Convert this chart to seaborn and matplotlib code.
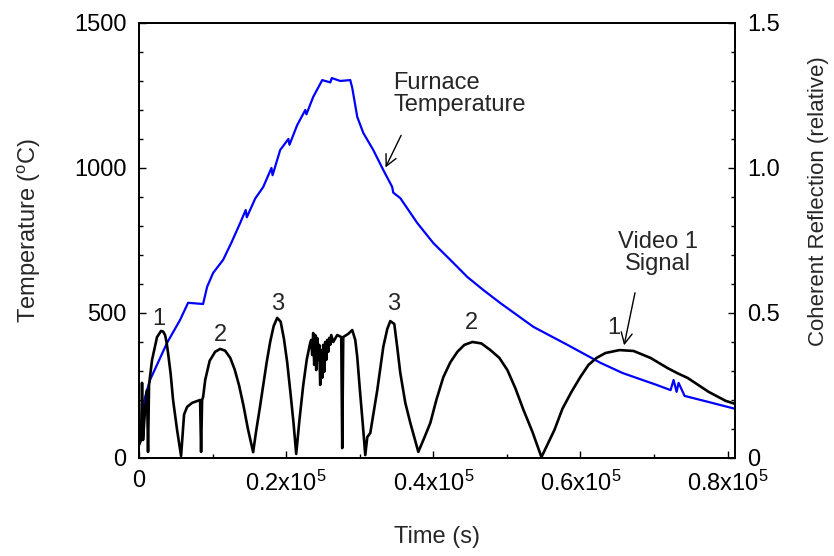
import matplotlib
matplotlib.use('Agg')
import matplotlib.pyplot as plt
import seaborn as sns
from matplotlib.ticker import MultipleLocator, FixedLocator

# furnace temperature (left axis, deg C)
time_furnace = [0, 408, 816, 1497, 3810, 5578, 6667, 8707, 9252, 10068, 11429,
                12600, 13741, 14500, 14650, 15800, 16871, 18000, 18150, 19184,
                20300, 20450, 21497, 22600, 22750, 23673, 24898, 26000, 26200,
                27347, 28707, 28980, 29660, 30476, 31837, 33197, 34400, 34550,
                35510, 37823, 40000, 42313, 44626, 46803, 49116, 53605, 58231,
                62721, 65714, 70340, 72245, 72653, 73061, 73333, 74150, 77415,
                81088]
temp_furnace = [45, 141, 210, 269, 397, 476, 535, 531, 590, 638, 683,
                745, 810, 855, 830, 895, 934, 1000, 975, 1062,
                1100, 1080, 1148, 1200, 1185, 1245, 1303, 1295, 1310,
                1300, 1303, 1276, 1176, 1121, 1062, 993, 935, 915,
                896, 810, 741, 683, 624, 579, 534, 452, 390,
                328, 293, 252, 234, 269, 228, 259, 214, 193,
                169]

# video 1 coherent reflection (right axis, relative)
time_signal = [0, 272, 408, 544, 816, 1088, 1224, 1361, 1769, 2449, 2993, 3270,
               3537, 3740, 3946, 4300, 4626, 5170, 5714, 6122, 6531, 7211,
               8299, 8435, 8571, 8707, 9000, 9600, 10340, 11020, 11700, 12400,
               13000, 13600, 14200, 14800, 15510, 15900, 16400, 16871, 17350,
               17823, 18300, 18776, 19250, 19700, 20136, 20600, 21000, 21361,
               21800, 22313, 22800, 23265, 23401, 23537, 23673, 23809, 23945,
               24082, 24218, 24354, 24490, 24626, 24762, 24898, 25034, 25170,
               25306, 25442, 25578, 25714, 25850, 25986, 26122, 26395, 26939,
               27483, 27619, 27755, 28435, 28980, 29388, 29660, 30000, 30400,
               30748, 31020, 31429, 32381, 33197, 33741, 34150, 34694, 35102,
               35510, 36190, 36871, 37959, 38776, 39592, 40408, 41361, 42313,
               43265, 44218, 45306, 46531, 47755, 48980, 50068, 51156, 52245,
               53469, 54694, 56463, 57551, 58776, 60000, 61088, 62177, 63401,
               65306, 67211, 69524, 71837, 73200, 74558, 77415, 79728, 81088]
reflection = [0.045, 0.062, 0.259, 0.062, 0.166, 0.234, 0.021, 0.252, 0.338, 0.417, 0.438, 0.436,
              0.424, 0.400, 0.362, 0.290, 0.200, 0.097, 0.007, 0.150, 0.176, 0.190,
              0.200, 0.021, 0.200, 0.210, 0.270, 0.335, 0.366, 0.376, 0.370, 0.345,
              0.305, 0.250, 0.180, 0.100, 0.020, 0.090, 0.170, 0.250, 0.330,
              0.400, 0.455, 0.483, 0.470, 0.410, 0.330, 0.220, 0.120, 0.014,
              0.130, 0.250, 0.340, 0.397, 0.407, 0.355, 0.431, 0.321, 0.424,
              0.303, 0.414, 0.338, 0.390, 0.252, 0.372, 0.276, 0.390, 0.297,
              0.400, 0.338, 0.407, 0.366, 0.414, 0.390, 0.424, 0.400, 0.424,
              0.417, 0.034, 0.417, 0.428, 0.441, 0.407, 0.348, 0.240, 0.120,
              0.010, 0.072, 0.086, 0.234, 0.383, 0.445, 0.472, 0.462, 0.380,
              0.293, 0.190, 0.121, 0.021, 0.070, 0.121, 0.200, 0.279, 0.330,
              0.366, 0.390, 0.400, 0.395, 0.372, 0.345, 0.303, 0.240, 0.166,
              0.090, 0.003, 0.097, 0.170, 0.228, 0.280, 0.321, 0.345, 0.362,
              0.372, 0.369, 0.345, 0.310, 0.292, 0.276, 0.228, 0.197, 0.186]

# interference order labels above each arch
order_labels = ['1', '2', '3', '3', '2', '1']
order_time = [2721, 11020, 18776, 34558, 45170, 64490]
order_refl = [0.479, 0.424, 0.531, 0.531, 0.466, 0.448]

xtick_values = [0, 20000, 40000, 60000, 80000]
xtick_labels = ['0', '0.2x10$^5$', '0.4x10$^5$', '0.6x10$^5$', '0.8x10$^5$']

sns.set_style('ticks')
plt.rcParams['font.family'] = ['Liberation Sans', 'DejaVu Sans']
plt.rcParams['mathtext.default'] = 'regular'
FS = 17

fig = plt.figure(figsize=(8.34, 5.56), dpi=100)
ax = fig.add_axes([0.1667, 0.1763, 0.7146, 0.7824])
ax2 = ax.twinx()

sns.lineplot(x=time_furnace, y=temp_furnace, ax=ax, color='#0000ff', lw=1.6,
             estimator=None, sort=False)
sns.lineplot(x=time_signal, y=reflection, ax=ax2, color='black', lw=1.9,
             estimator=None, sort=False)

ax.set_xlim(0, 81000)
ax.set_ylim(0, 1500)
ax2.set_ylim(0, 1.5)

ax.xaxis.set_major_locator(FixedLocator(xtick_values))
ax.set_xticklabels(xtick_labels)
ax.xaxis.set_minor_locator(MultipleLocator(10000))
ax.yaxis.set_major_locator(MultipleLocator(500))
ax.yaxis.set_minor_locator(MultipleLocator(100))
ax2.yaxis.set_major_locator(FixedLocator([0, 0.5, 1.0, 1.5]))
ax2.set_yticklabels(['0', '0.5', '1.0', '1.5'])
ax2.yaxis.set_minor_locator(MultipleLocator(0.1))

ax.tick_params(which='both', direction='in', right=False, top=False,
               labelsize=FS, colors='black', width=1.0)
ax.tick_params(which='major', length=5, pad=9)
ax.tick_params(which='minor', length=3)
ax2.tick_params(which='both', direction='in', left=False, right=True,
                labelsize=FS, colors='black', width=1.0)
ax2.tick_params(which='major', length=5, pad=9)
ax2.tick_params(which='minor', length=3)

for a in (ax, ax2):
    for s in a.spines.values():
        s.set_visible(True)
        s.set_color('black')
        s.set_linewidth(1.3)

ax.set_xlabel('Time (s)', fontsize=FS, labelpad=22)
ax.set_ylabel('Temperature ($^o$C)', fontsize=FS)
ax.yaxis.set_label_coords(-0.161, 0.524)
ax2.set_ylabel('Coherent Reflection (relative)', fontsize=16)
ax2.yaxis.set_label_coords(1.122, 0.59)

for lab, t, r in zip(order_labels, order_time, order_refl):
    ax2.text(t, r, lab, fontsize=FS, ha='center', va='center')

ax2.text(34558, 1.255, 'Furnace\nTemperature', fontsize=FS, ha='left',
         va='center', linespacing=1.0)
ax2.annotate('', xy=(33333, 0.993), xytext=(35782, 1.121),
             arrowprops=dict(arrowstyle='->', color='black', lw=1.0,
                             mutation_scale=20))
ax2.text(70476, 0.707, 'Video 1\nSignal', fontsize=FS, ha='center',
         va='center', linespacing=1.0)
ax2.annotate('', xy=(65850, 0.379), xytext=(67483, 0.579),
             arrowprops=dict(arrowstyle='->', color='black', lw=1.0,
                             mutation_scale=20))

fig.savefig('out.png', dpi=100)
